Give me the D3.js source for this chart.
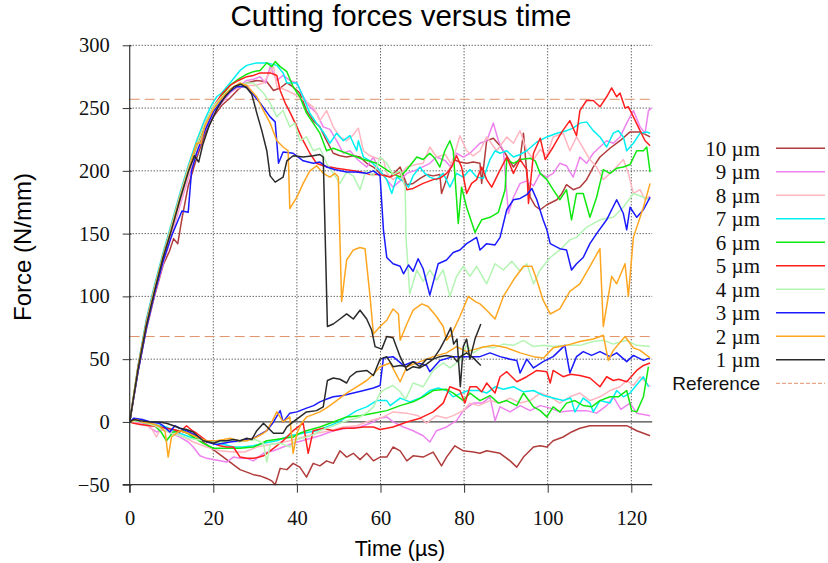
<!DOCTYPE html>
<html><head><meta charset="utf-8">
<script src="https://cdn.jsdelivr.net/npm/d3@7"></script>
<style>body{margin:0;background:#fff}svg{display:block}</style>
</head><body>
<svg id="c" width="828" height="563"></svg>
<script>
// ---------- DATA ----------
const xTicks = [0,20,40,60,80,100,120];
const yTicks = [-50,0,50,100,150,200,250,300];
const referenceValues = [257, 68];
const legendLabels = ["10 µm","9 µm","8 µm","7 µm","6 µm","5 µm","4 µm","3 µm","2 µm","1 µm"];

const up1 = [[0,0],[2,42],[4,77],[6,105],[8,131],[10,153],[12,177],[14,199],[15.5,212],[16.5,207],[17.5,221],[19,236],[21,250],[23,260],[25,267],[26.5,269],[28,266],[29.2,261],[30.4,246],[31.6,232],[32.8,216],[33.6,196],[34.8,191],[36.7,195],[37.6,208],[39.1,212],[41.5,211],[43.9,212],[45.5,213],[46.3,211],[47.3,76],[48.7,78],[50.3,82],[51.9,86],[52.7,84],[53.5,82],[55.1,89],[56.7,82],[57.9,73],[58.7,60],[60.3,58],[61.5,68],[63,67],[64.7,52],[66.3,41],[67.8,44],[69.4,43],[71,46],[72.6,50],[74.2,58],[75.8,68],[76.8,75],[77.5,62],[78.3,66],[79.1,28],[79.8,60],[80.6,66],[81.4,50],[82.6,66],[84,78]];
const lo1 = [[0,0],[1,2],[2.5,1],[5,0],[7,0],[8.8,-1],[10.5,-3],[12,-5],[13.6,-6],[15.2,-8],[16.5,-12],[17.6,-15],[19,-16],[20,-17],[21.6,-15],[23.2,-15],[24.8,-14],[26.4,-15],[28,-13],[29.2,-14],[30.4,-7],[32,-1],[33.2,-5],[34.4,-9],[35.5,-9],[36.7,-9],[37.6,-4],[39.1,0],[40.7,4],[42.3,8],[44.7,9],[46.3,12],[47.3,33],[48.7,35],[50.3,34],[51.9,31],[52.7,36],[54.3,40],[56.7,41],[58.3,37],[59.9,50],[61.5,52],[63,44],[64.7,45],[66.3,44],[67.8,48],[69.4,44],[71,50],[72.6,50],[74.2,52],[75.8,53],[77.4,52],[78.3,48],[79.1,52],[80.6,55],[82.2,51],[84,45]];

const up2 = [[0,0],[2,43],[4,78],[6,106],[8,132],[10,154],[12,178],[14,200],[16,222],[17,222],[18,236],[20,249],[22,258],[24,265],[26.4,270],[28,268],[30.4,259],[32,248],[33.6,238],[35.2,224],[36.7,219],[37.9,216],[38.3,170],[40,179],[41.5,190],[43.1,200],[44.7,204],[46.3,198],[47.9,195],[49.1,198],[49.9,195],[50.7,96],[51.9,129],[53.5,137],[55.1,139],[56.3,138],[57.5,100],[58.3,70],[59.9,76],[61.5,81],[63,90],[64.3,86],[64.7,65],[66.3,78],[67.8,89],[69.9,94],[71.4,92],[73.4,84],[75,76],[75.8,65],[77,70],[79,84],[81,100],[82.6,96],[83.8,94],[85.4,89],[87.4,82],[89.4,100],[91.8,113],[94.2,124],[96.2,124],[97.4,113],[98.9,97],[100.6,86],[102.9,90],[105.3,104],[107.7,110],[110.1,124],[112.5,138],[113.3,76],[115.3,116],[116.5,110],[118.5,126],[119.3,100],[120.5,147],[122.9,171],[124.5,190]];
const lo2 = [[0,0],[1.5,2],[3,0],[5,-1],[7,-3],[8.5,-8],[9.2,-28],[10,-12],[12,-7],[14,-9],[16,-12],[18.4,-15],[20.8,-15],[22.5,-14],[24,-13],[26,-15],[28,-15],[30.4,-12],[32,-9],[32.8,-7],[34,0],[35.2,8],[36.7,0],[38.3,4],[39.1,-25],[40,-9],[41.1,-1],[42.3,4],[44,6],[45.5,8],[47,11],[48.7,15],[50.3,19],[51.9,23],[54.3,28],[56.7,33],[58.3,38],[59.9,44],[62.3,47],[64.7,32],[66.3,44],[69.5,48],[72.6,52],[75.8,55],[78.2,60],[80.6,56],[83.8,59],[87,61],[90.2,59],[93.4,55],[96.6,52],[99,51],[101.3,59],[104.5,61],[107.7,64],[110.9,66],[113.3,69],[114.5,49],[115.7,57],[118.5,68],[120.5,59],[122.1,57],[124.5,51]];

const up3 = [[0,0],[2,40],[4,75],[6,103],[8,128],[10,148],[11.5,160],[12.5,168],[14,167],[14.8,200],[16,214],[18,232],[20,247],[22,256],[24,263],[25.6,267],[28,267],[29.5,261],[31.2,254],[33.6,243],[34.8,239],[35.6,206],[36.7,215],[39.1,214],[41.5,208],[43.9,206],[45.5,207],[47.1,203],[49,201],[51.9,199],[54,199],[56.7,198],[58.3,200],[59.9,196],[60.7,153],[61.5,131],[63,126],[64.7,124],[65.5,118],[66.7,125],[67.8,120],[69,130],[70.2,122],[71.8,101],[73.8,126],[75.8,129],[77.4,135],[79,137],[80.6,142],[83,147],[83.8,137],[85.4,142],[87.4,141],[88.6,147],[90.2,169],[91.8,177],[93.4,178],[95,181],[96.2,186],[97.4,177],[98.9,161],[99.8,153],[100.6,142],[102.9,138],[104.5,137],[105.7,121],[106.9,126],[108.5,131],[110.1,142],[111.7,150],[114.1,161],[116.5,177],[118.1,166],[118.9,153],[119.7,171],[121.3,163],[122.9,169],[124.5,179]];
const lo3 = [[0,0],[1,3],[3,2],[5,0],[7,-1],[8,-3],[9.6,-8],[10.8,-3],[12,-5],[13.6,-7],[16,-11],[18.4,-16],[20.8,-18],[22.4,-17],[24,-16],[26.4,-15],[28,-14],[29.6,-13],[31.2,-10],[32.8,-7],[34.4,0],[36,9],[36.7,0],[38.3,7],[40,8],[42.3,11],[44,13],[45.5,16],[47,18],[48.7,20],[51,21],[53.5,23],[56,25],[58.3,27],[59.9,29],[60.7,51],[63,52],[65.5,45],[67.8,48],[71,45],[71.8,40],[74.2,49],[77.4,52],[80.6,52],[83.8,52],[86.2,55],[88.6,52],[91,50],[92.6,49],[93.4,39],[95,50],[96.6,43],[98.9,48],[101.3,52],[104.1,61],[105.3,39],[106.9,52],[108.5,56],[110.5,53],[112.5,56],[114.9,52],[116.5,55],[118.9,48],[120.5,53],[122.9,49],[124.5,51]];

const up4 = [[0,0],[2,43],[4,79],[6,108],[8,133],[10,156],[12,180],[14,202],[16,221],[18,238],[20,251],[22,259],[24,265],[26,268],[28,270],[29.6,270],[32,262],[33.6,254],[35.2,243],[36.7,248],[38.3,235],[39.5,238],[40.7,224],[42.3,227],[43.9,216],[45.5,218],[47.1,206],[48.7,198],[50.3,190],[51.9,199],[53.5,196],[55.1,185],[56.5,200],[58.3,196],[59.9,211],[61.5,206],[63,197],[64.7,200],[65.9,187],[66.1,147],[66.3,137],[67,102],[68.7,121],[70.2,112],[71.8,121],[73.4,113],[75,121],[76.6,100],[78.2,116],[79.8,124],[81.4,116],[83,124],[85.4,110],[87.4,126],[89.4,121],[91.4,128],[93.4,120],[95,126],[96.6,110],[98.2,121],[100.6,131],[102.9,137],[105.3,145],[106.9,147],[109.3,155],[112.5,161],[115.7,163],[118.1,171],[120.5,182],[122.9,179],[124.5,177]];
const lo4 = [[0,0],[2,1],[4,-1],[6,-3],[8,-6],[10,-9],[12,-11],[14,-13],[16,-14],[18,-15],[20,-17],[22,-16],[24,-15],[26,-16],[28,-15],[30,-14],[32,-17],[32.8,-32],[33.6,-18],[36,-17],[38.3,-20],[40,-14],[42.3,-12],[44,-10],[45.5,-7],[47,-5],[48.7,-3],[51,0],[53,2],[55.1,4],[57,8],[58.3,12],[59.9,23],[61,26],[63,29],[64.7,24],[66,18],[67.8,31],[70.2,28],[72.6,41],[75,47],[76.6,43],[79,49],[80.6,61],[82.2,55],[84.6,60],[87,59],[89.4,62],[91.8,61],[94.2,65],[96.6,60],[99,61],[101.3,60],[104.5,61],[107.7,61],[110.9,64],[113.3,65],[115.7,62],[118.9,65],[121.3,61],[124.5,60]];

const up5 = [[0,0],[2,44],[4,80],[6,108],[8,133],[10,156],[12,180],[14,202],[16,221],[18,238],[20,251],[22,261],[24,268],[26,272],[28,275],[29.6,276],[31.2,278],[33.6,278],[35.2,276],[36,264],[37.2,254],[38.3,247],[40,235],[41.5,224],[43.1,214],[44.7,206],[46.3,204],[47.9,203],[49.5,202],[51.5,201],[53.5,200],[55.5,199],[57.5,197],[59.9,197],[62.3,195],[64.7,199],[66.3,185],[67.8,186],[70.2,190],[72.6,193],[74.2,194],[75.8,198],[77,203],[78.2,212],[79.4,203],[80.6,182],[81.8,190],[83,193],[84.2,203],[85.4,193],[86.6,187],[88.2,198],[90.2,211],[91.8,198],[93.4,209],[95,201],[95.4,174],[96.6,214],[98.2,226],[99.4,209],[101.3,219],[103.4,231],[105.3,240],[106.9,228],[107.7,248],[109.3,256],[110.9,256],[112.5,251],[114.1,259],[115.3,266],[116.5,259],[117.3,262],[118.5,250],[119.3,251],[120.5,243],[122.1,232],[123.3,224],[124.5,220]];
const lo5 = [[0,0],[1,-1],[2.5,-2],[5,-3],[7,-4],[8.8,-5],[10.5,-6],[12,-8],[13.6,-3],[15,-7],[16,-9],[18.4,-15],[20,-17],[21.6,-19],[23.2,-20],[24.8,-20],[26.4,-28],[28,-29],[29.6,-29],[31,-28],[32,-27],[34.4,-21],[36.7,-15],[39.1,-7],[41.5,-1],[42.7,-25],[43.9,-7],[46.3,-5],[48.7,-7],[51,-5],[53.5,-5],[56,-4],[58.3,-4],[59.9,-6],[61.5,-5],[63,-4],[66.3,0],[69.5,3],[72.6,8],[75,15],[76.6,28],[79,25],[80.2,15],[81.4,28],[83,28],[84.2,24],[85.4,31],[87.4,23],[88.6,36],[90.2,40],[92.6,32],[95,36],[97.4,41],[99.8,40],[100.6,31],[101.3,41],[103.7,36],[105.5,38],[107.7,37],[110.1,35],[112.5,28],[114.1,36],[115.7,33],[117,34],[118.9,32],[121.3,41],[122.9,45],[124.5,47]];

const up6 = [[0,0],[2,43],[4,78],[6,106],[8,131],[10,154],[12,178],[14,200],[16,220],[18,237],[20,250],[22,260],[24,268],[26,273],[28,277],[29.6,279],[31.2,280],[32.8,286],[34,283],[34.8,287],[36,283],[37.6,279],[39.1,267],[40.7,259],[42.3,246],[43.9,238],[45.5,230],[47.1,216],[48.7,218],[50.3,216],[51.9,214],[53.5,212],[55.1,210],[57,208],[59.1,206],[60.5,203],[62.3,199],[64.7,195],[66.3,201],[68.7,211],[70.2,209],[71.8,214],[73,210],[74.2,203],[75.4,216],[76.6,224],[77.4,216],[78.6,158],[79.4,187],[80.6,171],[82.6,151],[84.2,161],[86.2,163],[88.2,167],[89.8,185],[90.2,209],[91.8,206],[93.4,209],[95.8,210],[97,208],[98.2,198],[99.8,193],[101.3,185],[102.9,177],[104.5,185],[105.7,161],[106.9,182],[108.5,182],[110.1,163],[111.7,179],[113.3,201],[114.9,198],[116.5,202],[118.1,203],[119.7,205],[121.3,216],[122.9,216],[123.7,219],[124.5,199]];
const lo6 = [[0,0],[2,1],[4,-1],[6,-3],[7.5,-8],[8.8,-15],[10.4,-8],[12.8,-7],[15.2,-12],[17.6,-17],[20,-21],[23.2,-21],[26.4,-21],[29.6,-20],[31,-18],[32.8,-15],[35,-14],[37,-13],[39.1,-12],[40.7,-9],[42.3,-7],[45.5,-4],[48.7,0],[51.9,4],[55.1,5],[58.3,7],[61.5,9],[64.7,13],[67.8,16],[70.2,20],[72.6,25],[75.8,26],[77.4,23],[79.8,17],[81.4,23],[83.8,17],[86.2,21],[88.2,15],[90.2,17],[92.6,13],[94.2,23],[96.6,12],[98.2,9],[99.8,4],[101.3,12],[102.9,8],[104.5,15],[106.5,17],[108.5,13],[110.5,12],[112.5,17],[114.9,20],[116.9,20],[118.9,25],[120.1,9],[121.3,8],[122.9,20],[124.1,44]];

const up7 = [[0,0],[2,45],[4,82],[6,110],[8,135],[10,158],[12,182],[14,204],[16,224],[18,241],[19.5,252],[20.8,259],[22,262],[24,270],[26.4,280],[28,284],[30.4,286],[32.8,286],[35.2,284],[36.7,278],[37.6,270],[40,270],[41.5,259],[43.1,246],[44.7,238],[46.3,231],[47.9,222],[49.5,230],[51.1,224],[52.7,228],[54.3,216],[54.7,224],[55.9,211],[57.5,208],[59.9,200],[61.5,193],[62.7,182],[63.9,195],[65.3,192],[66.7,187],[67.8,196],[69.4,203],[70.6,198],[71.8,195],[73.4,193],[75,198],[76.6,187],[78.2,198],[79.8,195],[81.4,201],[83,195],[84.6,194],[86.2,209],[87.4,216],[88.6,214],[90.2,216],[91.8,211],[93.4,213],[95,216],[97.4,223],[99.8,227],[102.2,230],[104.5,232],[106.1,234],[107.7,238],[109.3,239],[110.9,232],[112.5,227],[114.1,219],[115.7,230],[116.9,232],[118.1,227],[118.9,216],[120.5,222],[122.1,230],[123.7,231],[124.5,230]];
const lo7 = [[0,0],[2,1],[4,-1],[6,-2],[8.8,-4],[10.5,-7],[12,-9],[13.6,-11],[15.2,-13],[18,-15],[21.6,-17],[24.8,-20],[27,-20],[29.6,-19],[32,-17],[35.2,-15],[38.3,-11],[41.5,-9],[44.7,-7],[47.9,-3],[50,0],[51.9,4],[54.3,9],[56.7,12],[59.1,17],[61.5,17],[62.3,13],[64.7,19],[67,16],[69.5,19],[71.8,25],[73.8,27],[75.8,25],[77.4,20],[79.4,23],[81,25],[83.5,25],[85.4,23],[87.4,28],[89.4,26],[91.8,28],[94.2,24],[96.6,25],[99,21],[101.3,19],[103.7,17],[105.5,19],[106.5,8],[108.5,19],[110.1,15],[110.9,8],[112.5,17],[114.9,15],[116.5,25],[118.1,20],[119.7,23],[120.9,28],[122.9,36],[124.1,28]];

const up8 = [[0,0],[2,42],[4,77],[6,105],[8,128],[10,150],[12,174],[14,196],[16,216],[18,234],[20,247],[22,256],[24,263],[26,266],[28,268],[30,268],[32,270],[34.4,283],[35.2,267],[37.6,264],[40,260],[42.3,255],[43.9,251],[45.5,240],[47.1,248],[48.7,235],[50.3,227],[51.9,224],[53.3,228],[54.7,234],[55.9,216],[57.5,212],[59,210],[60.7,209],[61.5,198],[63,193],[64.7,197],[66.3,203],[68.5,205],[70.2,206],[71.8,219],[73.4,211],[75.5,213],[77,205],[79,228],[80.6,216],[82.2,212],[83.8,216],[85.4,227],[87.8,216],[90.2,227],[91.8,222],[93.4,232],[95,216],[96.6,209],[98.2,217],[99.8,212],[101.3,227],[103.7,230],[105.3,216],[106.9,227],[108.5,218],[110.1,209],[111.7,203],[113.3,193],[114.9,198],[116.5,203],[118.1,209],[119.3,198],[120.5,182],[122.1,185],[123.3,177],[124.5,180]];
const lo8 = [[0,0],[2,-1],[4,-3],[5,-4],[6.4,-12],[7.5,-5],[9,-6],[11,-9],[13,-12],[15.2,-16],[18.4,-20],[21.6,-23],[24.8,-24],[27.5,-24],[30.4,-20],[32,-19],[35.2,-17],[38.3,-15],[41.5,-12],[44.7,-9],[47.9,-7],[51.1,-4],[54.3,-3],[57.5,1],[60.7,4],[63,8],[66.3,7],[69,5],[71,-1],[73.4,5],[75.8,3],[77.4,5],[79.8,9],[81.4,15],[83.5,13],[86.2,17],[88.6,15],[91,19],[93.4,15],[95.8,17],[98.2,23],[100.6,20],[102.9,15],[105.3,20],[107.7,23],[110.1,17],[112.5,20],[114.9,25],[117.3,28],[118.9,33],[120.5,29],[122.1,36],[124.5,28]];

const up9 = [[0,0],[2,41],[4,75],[6,102],[8,126],[10,148],[12,172],[14,194],[16,214],[18,232],[20,245],[22,254],[24,262],[26,267],[28,272],[29.6,273],[31.2,275],[32.5,270],[33.6,283],[35.2,272],[36.7,276],[38.3,272],[40,270],[41.5,259],[43.1,251],[44.7,246],[46.3,235],[47.9,233],[49.5,224],[51.1,214],[52.7,216],[54.5,209],[56.7,203],[58.3,211],[59.5,201],[61.5,193],[63,187],[64.7,192],[66.3,198],[68,200],[70,203],[71.8,206],[73.4,211],[75.5,208],[76.8,203],[78.2,214],[79.8,211],[81.4,214],[83.8,222],[85.4,224],[87,238],[88.2,224],[89.4,216],[90.6,166],[91.8,179],[93.4,190],[95,192],[96.6,188],[98.2,198],[99.8,195],[101.3,198],[102.9,206],[104.5,204],[106.1,195],[107.7,211],[109.3,206],[110.9,214],[112.5,219],[114.1,224],[115.7,222],[117.3,227],[118.9,238],[120.5,248],[122.1,235],[123.3,230],[124.1,248],[124.8,250]];
const lo9 = [[0,0],[2,0],[4,-2],[5,-5],[6.4,-8],[8,-6],[10,-9],[12,-12],[14,-16],[15.2,-20],[16.8,-27],[18.4,-29],[20,-30],[21.6,-31],[23.2,-32],[24.8,-28],[26.5,-29],[28,-29],[29.6,-31],[32,-25],[34.4,-23],[36.7,-20],[39.1,-17],[42.3,-14],[45.5,-11],[48.7,-7],[51.9,-5],[55.1,-4],[58.3,0],[59.9,3],[61.5,4],[63,0],[65.5,-4],[67.8,-7],[70.2,-11],[71.8,-16],[73.4,-7],[75.8,-4],[78.2,1],[79.8,9],[82.2,15],[84.4,15],[86.2,20],[87.4,1],[88.6,12],[91,8],[93.4,13],[95.8,9],[98.2,13],[100.6,11],[102.9,8],[105.5,9],[107.5,9],[109.3,9],[111.7,7],[114.1,13],[115.7,20],[117.5,10],[119.7,15],[121.3,7],[124.5,5]];

const up10 = [[0,0],[2,40],[4,74],[6,101],[8,125],[9.5,136],[10.5,146],[11.5,142],[12.5,162],[14,188],[16,210],[18,229],[20,243],[22,252],[24,258],[26,265],[28,270],[30.4,272],[32.8,271],[34.4,264],[36,266],[37.6,270],[39,267],[40.7,262],[42.3,248],[43.9,240],[45.5,235],[47.1,224],[48.7,214],[50.3,212],[51.9,211],[53.5,212],[55.1,211],[56.7,206],[58.3,203],[59.9,198],[62.3,195],[64.7,203],[66.3,189],[67.8,190],[69.5,194],[71,197],[72.6,196],[74.2,197],[74.6,182],[76,195],[77.4,209],[79,207],[80.6,206],[82.2,207],[83.8,206],[84.2,190],[85.4,224],[87,226],[88.6,220],[90.2,212],[91.8,203],[93.4,210],[94.2,230],[95,198],[95.8,179],[97,172],[98.2,169],[99.8,173],[101,175],[102.2,177],[103.4,182],[104.5,189],[106.1,185],[107.7,187],[109.3,193],[110.9,203],[112.5,211],[114.9,218],[117.3,224],[119.7,231],[122.1,231],[124.5,227]];
const lo10 = [[0,0],[2,-1],[4,-2],[6,-3],[8,-4],[10,-6],[12,-7],[14,-9],[15.5,-11],[16.8,-14],[18,-17],[20,-22],[21.6,-26],[23.2,-30],[24.8,-34],[26.4,-38],[28,-40],[29.6,-42],[31.2,-43],[32.8,-45],[34,-47],[34.8,-50],[36,-37],[37.6,-38],[39.1,-33],[40.7,-36],[42.3,-44],[43.9,-33],[45.5,-35],[47.1,-31],[48.7,-33],[50.3,-23],[51.9,-28],[53.5,-25],[55.1,-30],[56.7,-25],[58.3,-31],[59.9,-28],[61.5,-28],[63,-20],[64.7,-23],[66.3,-31],[67.8,-27],[70.2,-28],[72.6,-24],[74.6,-35],[75.8,-28],[77.8,-19],[79.8,-23],[82.2,-24],[83.8,-25],[85.4,-23],[87,-24],[88.6,-25],[91,-31],[92.6,-36],[94.2,-28],[96.6,-20],[98.2,-19],[99.8,-20],[101.3,-15],[103.7,-12],[105.7,-8],[107.7,-5],[110.1,-3],[112.5,-3],[115.7,-3],[118.9,-3],[121.3,-7],[124.5,-11]];

// legend order (top to bottom) = draw order
const seriesUpper = [up10, up9, up8, up7, up6, up5, up4, up3, up2, up1];
const seriesLower = [lo10, lo9, lo8, lo7, lo6, lo5, lo4, lo3, lo2, lo1];
const seriesColors = ["#b03c3c","#ee82ee","#ffb6c1","#00f0f0","#10e810","#ff1e1e","#b4f5b4","#1a1aff","#ffa620","#2a2a2a"];
const refColor = "#e0906a";

// ---------- CHART ----------
const svg = d3.select("#c");
const x = d3.scaleLinear().domain([0,125]).range([129.7,652.2]);
const y = d3.scaleLinear().domain([-50,300]).range([484.7,45.3]);

const grid = svg.append("g");
grid.selectAll("line.v").data(xTicks.filter(d=>d>0)).join("line")
  .attr("x1",d=>x(d)).attr("x2",d=>x(d)).attr("y1",y(300)).attr("y2",y(-50))
  .attr("stroke","#222").attr("stroke-width",1).attr("stroke-dasharray","1,2");
grid.selectAll("line.h").data(yTicks.filter(d=>d>0)).join("line")
  .attr("x1",x(0)).attr("x2",x(125)).attr("y1",d=>y(d)).attr("y2",d=>y(d))
  .attr("stroke","#222").attr("stroke-width",1).attr("stroke-dasharray","1,2");
// zero line
svg.append("line").attr("x1",x(0)).attr("x2",x(125)).attr("y1",y(0)).attr("y2",y(0))
  .attr("stroke","#444").attr("stroke-width",1.2);

// reference lines
svg.selectAll("line.ref").data(referenceValues).join("line")
  .attr("x1",x(0)).attr("x2",x(125)).attr("y1",d=>y(d)).attr("y2",d=>y(d))
  .attr("stroke",refColor).attr("stroke-width",1).attr("stroke-dasharray","10,5");

const line = d3.line().x(d=>x(d[0])).y(d=>y(d[1]));
const plot = svg.append("g");
seriesUpper.forEach((s,i)=>{
  [s, seriesLower[i]].forEach(arr=>{
    plot.append("path").datum(arr).attr("d",line).attr("fill","none")
      .attr("stroke",seriesColors[i]).attr("stroke-width",1.5)
      .attr("stroke-linejoin","round");
  });
});

// axes
const xAxis = svg.append("g").attr("transform",`translate(0,${y(-50)})`)
  .call(d3.axisBottom(x).tickValues(xTicks).tickSize(8).tickSizeOuter(0).tickFormat(d3.format("d")));
xAxis.select(".domain").remove();
xAxis.selectAll(".tick line").attr("stroke","#333");
xAxis.selectAll("text").attr("dy",null).attr("y",40.5)
  .attr("font-family","'Liberation Serif', serif").attr("font-size",20.5).attr("fill","#111");
svg.append("line").attr("x1",x(0)-7).attr("x2",x(125)).attr("y1",y(-50)).attr("y2",y(-50))
  .attr("stroke","#333").attr("stroke-width",1.2);

const yAxis = svg.append("g").attr("transform",`translate(${x(0)},0)`)
  .call(d3.axisLeft(y).tickValues(yTicks).tickSize(7).tickSizeOuter(0).tickPadding(13).tickFormat(d3.format("d")));
yAxis.select(".domain").remove();
yAxis.selectAll(".tick line").attr("stroke","#333").attr("x2",-7).attr("x1",2);
yAxis.selectAll("text").attr("font-family","'Liberation Serif', serif").attr("font-size",20.5).attr("fill","#111");
svg.append("line").attr("x1",x(0)).attr("x2",x(0)).attr("y1",y(300)).attr("y2",y(-50)+8)
  .attr("stroke","#333").attr("stroke-width",1.2);

// titles
svg.append("text").attr("x",401).attr("y",26).attr("text-anchor","middle")
  .attr("font-family","'Liberation Sans', Arial, sans-serif").attr("font-size",29.5).attr("fill","#000")
  .text("Cutting forces versus time");
svg.append("text").attr("x",400).attr("y",556).attr("text-anchor","middle")
  .attr("font-family","'Liberation Sans', Arial, sans-serif").attr("font-size",21.5).attr("fill","#000")
  .text("Time (µs)");
svg.append("text").attr("transform","translate(31,247) rotate(-90)").attr("text-anchor","middle")
  .attr("font-family","'Liberation Sans', Arial, sans-serif").attr("font-size",24).attr("fill","#000")
  .text("Force (N/mm)");

// legend
const lg = svg.append("g");
const rowY = i => 148.3 + i*23.5;
legendLabels.forEach((lab,i)=>{
  lg.append("text").attr("x",760).attr("y",rowY(i)).attr("dy","0.35em").attr("text-anchor","end")
    .attr("font-family","'Liberation Serif', serif").attr("font-size",21).attr("fill","#111").text(lab);
  lg.append("line").attr("x1",776).attr("x2",825).attr("y1",rowY(i)).attr("y2",rowY(i))
    .attr("stroke",seriesColors[i]).attr("stroke-width",1.5);
});
lg.append("text").attr("x",760).attr("y",rowY(10)).attr("dy","0.35em").attr("text-anchor","end")
  .attr("font-family","'Liberation Sans', Arial, sans-serif").attr("font-size",19).attr("fill","#111").text("Reference");
lg.append("line").attr("x1",776).attr("x2",825).attr("y1",rowY(10)).attr("y2",rowY(10))
  .attr("stroke",refColor).attr("stroke-width",1).attr("stroke-dasharray","4,2");
</script>
</body></html>
